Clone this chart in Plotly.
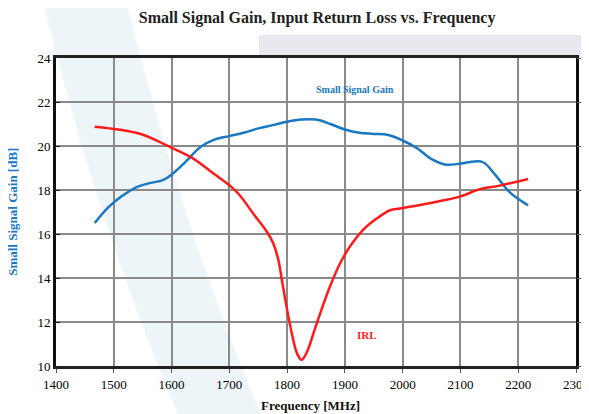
import plotly.graph_objects as go
from plotly.subplots import make_subplots

# Small signal gain [dB] vs frequency [MHz]
gain_freq = [1467, 1490, 1513, 1537, 1560, 1585, 1600, 1625, 1650, 1675, 1700, 1725,
             1750, 1775, 1800, 1825, 1850, 1875, 1900, 1925, 1950, 1975, 2000, 2025,
             2050, 2075, 2100, 2125, 2140, 2160, 2185, 2217]
gain_db = [16.5, 17.2, 17.7, 18.1, 18.3, 18.45, 18.7, 19.3, 19.95, 20.3, 20.45, 20.6,
           20.8, 20.95, 21.1, 21.2, 21.2, 21.0, 20.75, 20.6, 20.55, 20.5, 20.25, 19.9,
           19.4, 19.15, 19.2, 19.3, 19.25, 18.7, 17.9, 17.3]

# Input return loss [dB] (right axis) vs frequency [MHz]
irl_freq = [1467, 1545, 1597, 1637, 1672, 1701, 1718, 1741, 1765, 1776, 1785, 1791,
            1799, 1808, 1817, 1825, 1835, 1848, 1860, 1874, 1892, 1909, 1932, 1955,
            1978, 1995, 2030, 2065, 2099, 2134, 2168, 2217]
irl_db = [-2.8, -3.6, -5.1, -6.4, -8.1, -9.5, -10.6, -12.65, -14.75, -16.05, -18.0, -20.25,
          -23.25, -26.25, -28.55, -29.3, -28.3, -25.8, -23.5, -21.0, -18.3, -16.4, -14.5,
          -13.25, -12.3, -12.1, -11.7, -11.25, -10.75, -9.9, -9.5, -8.75]

x_ticks = list(range(1400, 2301, 100))

fig = make_subplots(specs=[[{"secondary_y": True}]])

fig.add_trace(go.Scatter(x=gain_freq, y=gain_db, mode="lines", line_shape="spline",
                         line=dict(color="#1a78c2", width=2.5), name="Small Signal Gain",
                         showlegend=False), secondary_y=False)
fig.add_trace(go.Scatter(x=irl_freq, y=irl_db, mode="lines", line_shape="spline",
                         line=dict(color="#ff1a1a", width=2.5), name="IRL",
                         showlegend=False), secondary_y=True)

# faint background watermark blocks
fig.add_shape(type="path", xref="paper", yref="paper", layer="below",
              path="M -0.03 1.22 L 0.13 1.22 Q 0.24 0.45 0.4 -0.18 L 0.24 -0.18 Q 0.07 0.5 -0.03 1.22 Z",
              fillcolor="#eef5f8", line_width=0)
fig.add_shape(type="rect", xref="paper", yref="paper", layer="below",
              x0=0.39, x1=1.03, y0=1.0, y1=1.075, fillcolor="#e8e9ef", line_width=0)

fig.add_annotation(x=1917, y=22.55, text="<b>Small Signal Gain</b>", showarrow=False,
                   font=dict(family="Liberation Serif", size=10, color="#1a78c2"))
fig.add_annotation(x=1938, y=11.4, text="<b>IRL</b>", showarrow=False,
                   font=dict(family="Liberation Serif", size=11, color="#ff1a1a"))

# axis titles placed by hand
fig.add_annotation(xref="paper", yref="paper", x=-0.085, y=0.5, textangle=-90,
                   xanchor="center", yanchor="middle",
                   text="<b>Small Signal Gain [dB]</b>", showarrow=False,
                   font=dict(family="Liberation Serif", size=13, color="#1a78c2"))
fig.add_annotation(xref="paper", yref="paper", x=0.49, y=-0.127,
                   xanchor="center", yanchor="middle",
                   text="<b>Frequency [MHz]</b>", showarrow=False,
                   font=dict(family="Liberation Serif", size=13, color="#111"))

# page body adds an 8px offset, so the figure is sized to fit what is left
fig.update_layout(
    width=581, height=406,
    margin=dict(l=48, r=13, t=50, b=48),
    paper_bgcolor="white", plot_bgcolor="rgba(0,0,0,0)",
    font=dict(family="Liberation Serif", size=13, color="black"),
    title=dict(text="<b>Small Signal Gain, Input Return Loss vs. Frequency</b>",
               x=0.532, xanchor="center", y=0.978, yanchor="middle",
               font=dict(family="Liberation Serif", size=16, color="#222")),
)
fig.update_xaxes(range=[1400, 2300], tickvals=x_ticks, showgrid=True, gridcolor="#8a8a8a",
                 gridwidth=1.5, showline=True, linecolor="#222", linewidth=3, mirror=True,
                 ticks="outside", ticklen=4, tickcolor="#555", zeroline=False,
                 automargin=False, domain=[0, 1])
fig.update_yaxes(range=[10, 24], dtick=2, showgrid=True, gridcolor="#8a8a8a", gridwidth=1.5,
                 showline=True, linecolor="#111", linewidth=3, mirror=True, zeroline=False,
                 ticks="inside", ticklen=4, tickcolor="#111", automargin=False,
                 secondary_y=False)
fig.update_yaxes(range=[-30, 5], dtick=5, showgrid=False, zeroline=False,
                 ticks="outside", ticklen=4, tickcolor="#555", automargin=False,
                 tickfont=dict(family="Liberation Serif", size=13),
                 secondary_y=True)

fig.write_html("out.html")
